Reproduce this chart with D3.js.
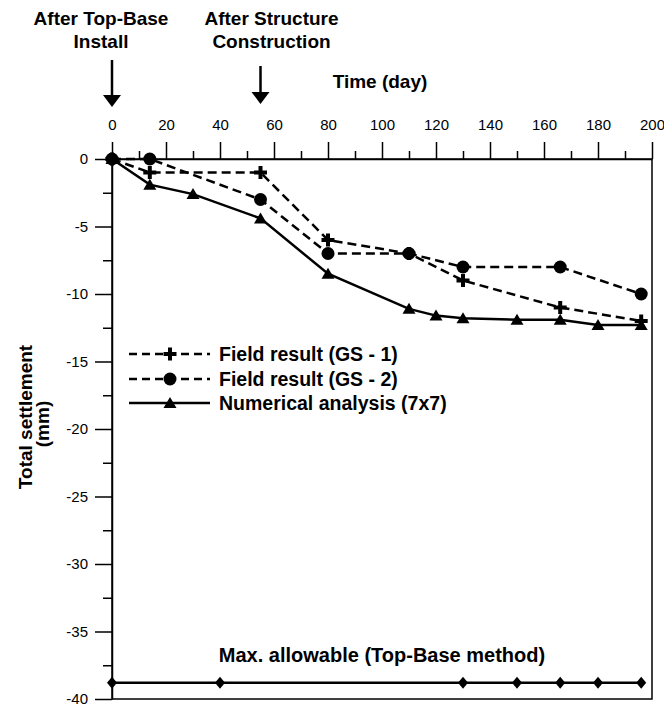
<!DOCTYPE html>
<html>
<head>
<meta charset="utf-8">
<script src="https://cdn.jsdelivr.net/npm/d3@7"></script>
<style>
  html, body { margin: 0; padding: 0; background: #fff; }
  svg { display: block; font-family: "Liberation Sans", Arial, sans-serif; }
</style>
</head>
<body>
<svg id="chart" width="664" height="709"></svg>
<script>
// Settlement monitoring: field gauges vs numerical model
const daysGS1 = [0, 14, 55, 80, 110, 130, 166, 196];
const valuesGS1 = [0, -1, -1, -6, -7, -9, -11, -12];

const daysGS2 = [0, 14, 55, 80, 110, 130, 166, 196];
const valuesGS2 = [0, 0, -3, -7, -7, -8, -8, -10];

const daysNum = [0, 14, 30, 55, 80, 110, 120, 130, 150, 166, 180, 196];
const valuesNum = [0, -1.9, -2.6, -4.4, -8.5, -11.1, -11.6, -11.8, -11.9, -11.9, -12.3, -12.3];

const daysMax = [0, 40, 130, 150, 166, 180, 196];
const valueMax = -38.8;

const xTicks = [0, 20, 40, 60, 80, 100, 120, 140, 160, 180, 200];
const yTicks = [0, -5, -10, -15, -20, -25, -30, -35, -40];

const legendLabels = ["Field result (GS - 1)", "Field result (GS - 2)", "Numerical analysis (7x7)"];
const eventDays = [0, 55];
const eventLabels = [["After Top-Base", "Install"], ["After Structure", "Construction"]];

const svg = d3.select("#chart");
const L = 112, R = 652, T = 159, B = 699;

const x = d3.scaleLinear().domain([0, 200]).range([L, R]);
const y = d3.scaleLinear().domain([0, -40]).range([T, B]);
const plain = d => String(d);

// frame
svg.append("rect").attr("x", L).attr("y", T).attr("width", R - L).attr("height", B - T)
  .attr("fill", "none").attr("stroke", "#000").attr("stroke-width", 1.5);

// top axis with major and minor ticks
const xAxis = d3.axisTop(x).tickValues(xTicks).tickFormat(plain).tickSize(17).tickPadding(12).tickSizeOuter(0);
const gx = svg.append("g").attr("transform", `translate(0,${T})`).call(xAxis);
gx.select(".domain").attr("stroke-width", 1.5);
gx.selectAll(".tick line").attr("stroke-width", 1.5);
gx.selectAll(".tick text").attr("font-size", 15).attr("fill", "#000");
const xMinor = d3.axisTop(x).tickValues(d3.range(10, 200, 20)).tickSize(8).tickFormat("").tickSizeOuter(0);
const gxm = svg.append("g").attr("transform", `translate(0,${T})`).call(xMinor);
gxm.select(".domain").remove();
gxm.selectAll(".tick line").attr("stroke-width", 1.5);

// left axis
const yAxis = d3.axisLeft(y).tickValues(yTicks).tickFormat(plain).tickSize(17).tickPadding(7).tickSizeOuter(0);
const gy = svg.append("g").attr("transform", `translate(${L},0)`).call(yAxis);
gy.select(".domain").attr("stroke-width", 1.5);
gy.selectAll(".tick line").attr("stroke-width", 1.5);
gy.selectAll(".tick text").attr("font-size", 15).attr("fill", "#000");
const yMinor = d3.axisLeft(y).tickValues(d3.range(-2.5, -40, -5)).tickSize(9).tickFormat("").tickSizeOuter(0);
const gym = svg.append("g").attr("transform", `translate(${L},0)`).call(yMinor);
gym.select(".domain").remove();
gym.selectAll(".tick line").attr("stroke-width", 1.5);

// axis titles
svg.append("text").attr("x", 380).attr("y", 88).attr("text-anchor", "middle")
  .attr("font-weight", "bold").attr("font-size", 19).text("Time (day)");
svg.append("text").attr("transform", "translate(32,417) rotate(-90)")
  .attr("text-anchor", "middle").attr("font-weight", "bold").attr("font-size", 19)
  .text("Total settlement");
svg.append("text").attr("transform", "translate(49,424) rotate(-90)")
  .attr("text-anchor", "middle").attr("font-weight", "bold").attr("font-size", 19)
  .text("(mm)");

// event annotations with arrows
const textOffsets = [-11, 11];
eventDays.forEach((d, i) => {
  const cx = x(d);
  const tx = cx + textOffsets[i];
  eventLabels[i].forEach((t, j) => {
    svg.append("text").attr("x", tx).attr("y", 25 + j * 23).attr("text-anchor", "middle")
      .attr("font-weight", "bold").attr("font-size", 19).text(t);
  });
  const top = i === 0 ? 60 : 66, tip = i === 0 ? 107 : 104;
  svg.append("line").attr("x1", cx).attr("x2", cx).attr("y1", top).attr("y2", tip - 8)
    .attr("stroke", "#000").attr("stroke-width", 2.5);
  svg.append("path").attr("d", `M${cx - 9},${tip - 12}L${cx + 9},${tip - 12}L${cx},${tip}Z`).attr("fill", "#000");
});

// marker shapes
const plusPath = "M-2,-6.5H2V-2H6.5V2H2V6.5H-2V2H-6.5V-2H-2Z";
const triPath = "M0,-6L6.5,5L-6.5,5Z";
const diaPath = "M0,-6L5,0L0,6L-5,0Z";

const line = d3.line().x(d => x(d[0])).y(d => y(d[1]));

function series(days, vals, dash, marker) {
  const pts = days.map((d, i) => [d, vals[i]]);
  svg.append("path").datum(pts).attr("d", line).attr("fill", "none")
    .attr("stroke", "#000").attr("stroke-width", 2.5)
    .attr("stroke-dasharray", dash || null);
  const g = svg.append("g");
  pts.forEach(p => marker(g, x(p[0]), y(p[1])));
}

const drawPlus = (g, cx, cy) => g.append("path").attr("d", plusPath).attr("transform", `translate(${cx},${cy})`).attr("fill", "#000");
const drawCircle = (g, cx, cy) => g.append("circle").attr("cx", cx).attr("cy", cy).attr("r", 6.5).attr("fill", "#000");
const drawTri = (g, cx, cy) => g.append("path").attr("d", triPath).attr("transform", `translate(${cx},${cy})`).attr("fill", "#000");
const drawDia = (g, cx, cy) => g.append("path").attr("d", diaPath).attr("transform", `translate(${cx},${cy})`).attr("fill", "#000");

series(daysGS1, valuesGS1, "9,5", drawPlus);
series(daysGS2, valuesGS2, "9,5", drawCircle);
series(daysNum, valuesNum, null, drawTri);

// allowable settlement limit
series(daysMax, daysMax.map(() => valueMax), null, drawDia);
svg.append("text").attr("x", (L + R) / 2).attr("y", 662).attr("text-anchor", "middle")
  .attr("font-weight", "bold").attr("font-size", 20).text("Max. allowable (Top-Base method)");

// legend
const legendRows = [354, 379, 403];
const legendDash = ["8,5", "8,5", null];
const legendMarker = [drawPlus, drawCircle, drawTri];
legendRows.forEach((ry, i) => {
  svg.append("line").attr("x1", 129).attr("x2", 210).attr("y1", ry).attr("y2", ry)
    .attr("stroke", "#000").attr("stroke-width", 2.5).attr("stroke-dasharray", legendDash[i]);
  legendMarker[i](svg, 170, ry);
  svg.append("text").attr("x", 219).attr("y", ry + 6.5).attr("font-weight", "bold")
    .attr("font-size", 19.5).text(legendLabels[i]);
});
</script>
</body>
</html>
